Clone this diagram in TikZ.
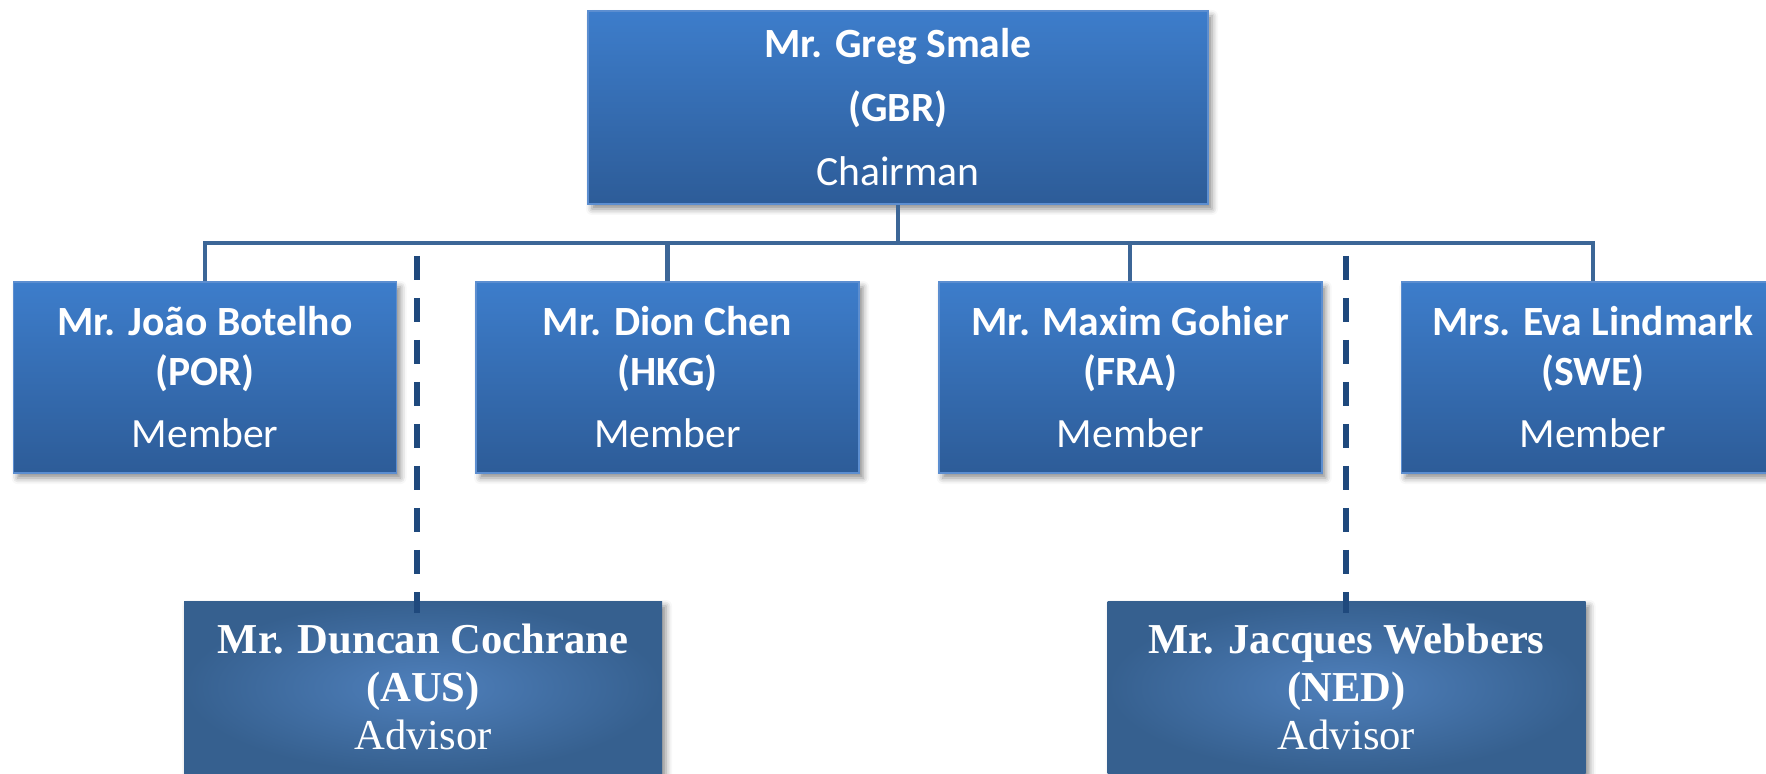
\documentclass[tikz,border=0pt]{standalone}
\usepackage{fontspec}
\newfontfamily\calfont{Carlito}
\newfontfamily\timesfont{Liberation Serif}
\usetikzlibrary{positioning,shadows.blur}

\definecolor{boxtop}{HTML}{3D7DCB}
\definecolor{boxbot}{HTML}{2D5C98}
\definecolor{boxedge}{HTML}{5C8ED0}
\definecolor{advin}{HTML}{4F80BC}
\definecolor{advout}{HTML}{36608F}
\definecolor{linkcol}{HTML}{3C6697}
\definecolor{dashcol}{HTML}{1F497D}

\tikzset{
    member/.style={rectangle, draw=boxedge, line width=0.8pt, top color=boxtop, bottom color=boxbot,
        minimum width=191.5pt, minimum height=95.5pt, inner sep=0pt, align=center, text=white,
        font=\calfont\fontsize{20.8}{25}\selectfont,
        blur shadow={shadow xshift=2pt, shadow yshift=-2.5pt, shadow blur radius=3pt, shadow opacity=45}},
    chair/.style={member, minimum width=310pt, minimum height=96.5pt,
        font=\calfont\fontsize{20.8}{32}\selectfont},
    advisor/.style={rectangle, inner color=advin, outer color=advout,
        minimum width=239pt, minimum height=86pt, inner sep=0pt, align=center, text=white,
        font=\timesfont\fontsize{21.3}{24}\selectfont,
        blur shadow={shadow xshift=2pt, shadow yshift=-2.5pt, shadow blur radius=3pt, shadow opacity=45}},
    link/.style={draw=linkcol, line width=2.2pt},
    advlink/.style={draw=dashcol, line width=3pt, dash pattern=on 12pt off 9pt}
}

\begin{document}
\begin{tikzpicture}[x=0.5pt, y=-0.5pt]
    \useasboundingbox (0,0) rectangle (1766,774);

    \node[chair] (smale) at (898,107.5) {\textbf{Mr. Greg Smale}\\\textbf{(GBR)}\\Chairman};

    \node[member] (botelho) at (205,377.5) {\textbf{Mr. João Botelho}\\\textbf{(POR)}\\[6pt]Member};
    \node[member, right=39pt of botelho] (chen) {\textbf{Mr. Dion Chen}\\\textbf{(HKG)}\\[6pt]Member};
    \node[member, right=39pt of chen] (gohier) {\textbf{Mr. Maxim Gohier}\\\textbf{(FRA)}\\[6pt]Member};
    \node[member, right=39pt of gohier] (lindmark) {\textbf{Mrs. Eva Lindmark}\\\textbf{(SWE)}\\[6pt]Member};

    \node[advisor] (cochrane) at (423,687) {\textbf{Mr. Duncan Cochrane}\\\textbf{(AUS)}\\Advisor};
    \node[advisor] (webbers) at (1346.5,687) {\textbf{Mr. Jacques Webbers}\\\textbf{(NED)}\\Advisor};

    \coordinate (bus) at (898,243);
    \coordinate (tip1) at (417,256);
    \coordinate (tip2) at (1346,256);

    \draw[link] (botelho.north) -- (botelho.north |- bus) -- (lindmark.north |- bus) -- (lindmark.north);
    \draw[link] (smale.south) -- (bus);
    \draw[link] (chen.north) -- (chen.north |- bus);
    \draw[link] (gohier.north) -- (gohier.north |- bus);

    \draw[advlink] (tip1) -- ([yshift=-6pt]tip1 |- cochrane.north);
    \draw[advlink] (tip2) -- ([yshift=-6pt]tip2 |- webbers.north);
\end{tikzpicture}
\end{document}
